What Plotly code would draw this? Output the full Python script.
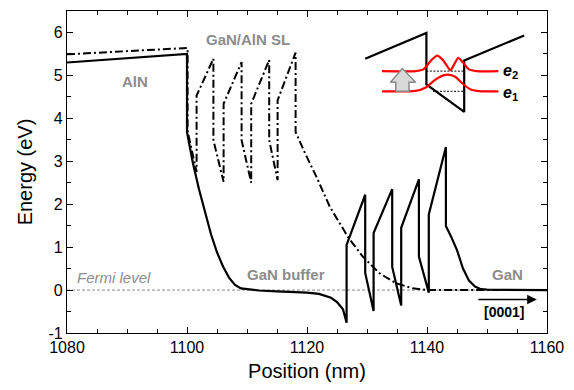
import plotly.graph_objects as go

# ---------------- data ----------------
# solid conduction-band profile
sol_x = [1080, 1100, 1100, 1100.5, 1101, 1102, 1103, 1104, 1105, 1106, 1107, 1108, 1109, 1110,
         1112, 1115, 1118, 1120, 1122, 1124, 1125, 1126, 1126.6, 1126.6, 1129.7, 1129.7,
         1131.1, 1131.1, 1134.2, 1134.2, 1135.7, 1135.7, 1138.65, 1138.65, 1140.3, 1140.3,
         1143.15, 1143.15, 1144, 1145, 1146, 1147, 1148, 1149, 1150, 1155, 1160]
sol_y = [5.30, 5.50, 3.68, 3.30, 2.95, 2.35, 1.82, 1.30, 0.88, 0.55, 0.29, 0.12, 0.04, 0.02,
         -0.01, -0.03, -0.04, -0.06, -0.09, -0.18, -0.28, -0.45, -0.76, 1.05, 2.22, 0.40,
         -0.49, 1.33, 2.35, 0.54, -0.36, 1.45, 2.58, 0.78, -0.06, 1.76,
         3.33, 1.49, 1.25, 0.93, 0.50, 0.22, 0.08, 0.02, 0.01, 0.0, 0.0]

# dash-dot conduction-band profile
dd_x = [1080, 1100.1, 1100.1, 1101.6, 1101.6, 1104.4, 1104.4, 1106.1, 1106.1, 1109.1, 1109.1,
        1110.7, 1110.7, 1113.7, 1113.7, 1115.1, 1115.1, 1118.1, 1118.1, 1119.7, 1121.6,
        1123.8, 1126.9, 1129.3, 1132.1, 1134.8, 1137.6, 1140.3, 1150, 1160]
dd_y = [5.49, 5.64, 3.70, 2.75, 4.53, 5.39, 3.49, 2.52, 4.34, 5.31, 3.49,
        2.50, 4.34, 5.36, 3.49, 2.56, 4.42, 5.53, 3.68, 3.18, 2.63,
        1.94, 1.22, 0.78, 0.39, 0.16, 0.04, 0.0, 0.0, 0.0]

# Fermi level
fermi_x = [1080, 1160]
fermi_y = [0, 0]

# inset schematic (quantum well)
well_x = [1129.7, 1139.9, 1139.9, 1146.2, 1146.2, 1156.2]
well_y = [5.39, 5.99, 4.79, 4.15, 5.35, 5.93]

e2_x = [1132.5, 1138.1, 1139.4, 1140.7, 1141.7, 1142.7, 1143.9, 1144.5, 1145.2, 1146.0, 1147.0, 1148.3, 1151.9]
e2_y = [5.10, 5.10, 5.14, 5.35, 5.46, 5.35, 5.12, 5.25, 5.41, 5.30, 5.14, 5.10, 5.10]

e1_x = [1132.5, 1138.1, 1139.8, 1141.4, 1142.7, 1143.5, 1144.7, 1146.0, 1147.3, 1149.0, 1151.9]
e1_y = [4.63, 4.64, 4.72, 4.90, 5.00, 5.02, 4.97, 4.80, 4.67, 4.63, 4.63]

lev2_x = [1139.9, 1146.2]
lev2_y = [5.10, 5.10]
lev1_x = [1141.0, 1146.2]
lev1_y = [4.63, 4.63]

arrow_x = [1134.8, 1137.0, 1137.0, 1138.1, 1135.9, 1133.9, 1134.8, 1134.8]
arrow_y = [4.63, 4.63, 4.84, 4.84, 5.16, 4.84, 4.84, 4.63]

dir_x = [1148.3, 1158.3]
dir_y = [-0.22, -0.22]

x_ticks = [1080, 1100, 1120, 1140, 1160]
y_ticks = [-1, 0, 1, 2, 3, 4, 5, 6]
y_labels = ["-1", "0", "1", "2", "3", "4", "5", "6"]

# ---------------- figure ----------------
FONT = "Arial, Liberation Sans, sans-serif"
GRAY = "#8c8c8c"

fig = go.Figure()

fig.add_trace(go.Scatter(x=fermi_x, y=fermi_y, mode="lines",
                         line=dict(color="#8a8a8a", width=1, dash="3px,2px"), hoverinfo="skip"))
fig.add_trace(go.Scatter(x=dd_x, y=dd_y, mode="lines",
                         line=dict(color="black", width=2, dash="8px,3px,2px,3px")))
fig.add_trace(go.Scatter(x=sol_x, y=sol_y, mode="lines",
                         line=dict(color="black", width=2.2)))

# inset
fig.add_trace(go.Scatter(x=well_x, y=well_y, mode="lines", line=dict(color="black", width=2.2)))
fig.add_trace(go.Scatter(x=lev2_x, y=lev2_y, mode="lines",
                         line=dict(color="black", width=1, dash="2px,1.5px")))
fig.add_trace(go.Scatter(x=lev1_x, y=lev1_y, mode="lines",
                         line=dict(color="black", width=1, dash="2px,1.5px")))
fig.add_trace(go.Scatter(x=e2_x, y=e2_y, mode="lines", line=dict(color="#ff0000", width=2.2, shape="spline", smoothing=0.6)))
fig.add_trace(go.Scatter(x=e1_x, y=e1_y, mode="lines", line=dict(color="#ff0000", width=2.2, shape="spline", smoothing=0.6)))
fig.add_trace(go.Scatter(x=arrow_x, y=arrow_y, mode="lines", fill="toself", fillcolor="#d9d9d9",
                         line=dict(color="#8a8a8a", width=1.5)))

# [0001] direction arrow
fig.add_annotation(x=dir_x[1], y=dir_y[1], ax=dir_x[0], ay=dir_y[0], xref="x", yref="y",
                   axref="x", ayref="y", showarrow=True, arrowhead=2, arrowsize=1.2,
                   arrowwidth=1.6, arrowcolor="black", text="")

texts = [
    (1091.3, 4.86, "<b>AlN</b>", GRAY, 15, "center"),
    (1110.1, 5.83, "<b>GaN/AlN SL</b>", GRAY, 15, "center"),
    (1116.5, 0.36, "<b>GaN buffer</b>", GRAY, 15, "center"),
    (1153.4, 0.37, "<b>GaN</b>", GRAY, 15, "center"),
    (1081.4, 0.29, "<i>Fermi level</i>", GRAY, 15, "left"),
    (1152.9, -0.52, "<b>[0001]</b>", "black", 14, "center"),
    (1152.3, 5.08, "<b><i>e</i><sub>2</sub></b>", "black", 16, "left"),
    (1152.3, 4.59, "<b><i>e</i><sub>1</sub></b>", "black", 16, "left"),
]
for x, y, t, c, s, al in texts:
    fig.add_annotation(x=x, y=y, xref="x", yref="y", text=t, showarrow=False,
                       xanchor=al, yanchor="middle", font=dict(family=FONT, size=s, color=c))

axis_common = dict(showline=True, linecolor="black", linewidth=1.3, mirror="allticks",
                   ticks="inside", ticklen=6, tickwidth=1.2, tickcolor="black",
                   showgrid=False, zeroline=False,
                   tickfont=dict(family=FONT, size=16, color="black"))

fig.update_layout(
    width=574, height=390,
    margin=dict(l=67, r=21, t=10, b=57),
    paper_bgcolor="white", plot_bgcolor="white",
    showlegend=False,
    xaxis=dict(range=[1080, 1160], tickvals=x_ticks,
               minor=dict(ticks="inside", dtick=5, ticklen=4, tickcolor="black", tickwidth=1.2),
               title=dict(text="Position (nm)", font=dict(family=FONT, size=20, color="black"), standoff=8),
               **axis_common),
    yaxis=dict(range=[-1, 6.5], tickvals=y_ticks, ticktext=y_labels,
               minor=dict(ticks="inside", dtick=0.5, ticklen=4, tickcolor="black", tickwidth=1.2),
               title=dict(text="Energy (eV)", font=dict(family=FONT, size=20, color="black"), standoff=10),
               **axis_common),
)

fig.write_html("out.html")
